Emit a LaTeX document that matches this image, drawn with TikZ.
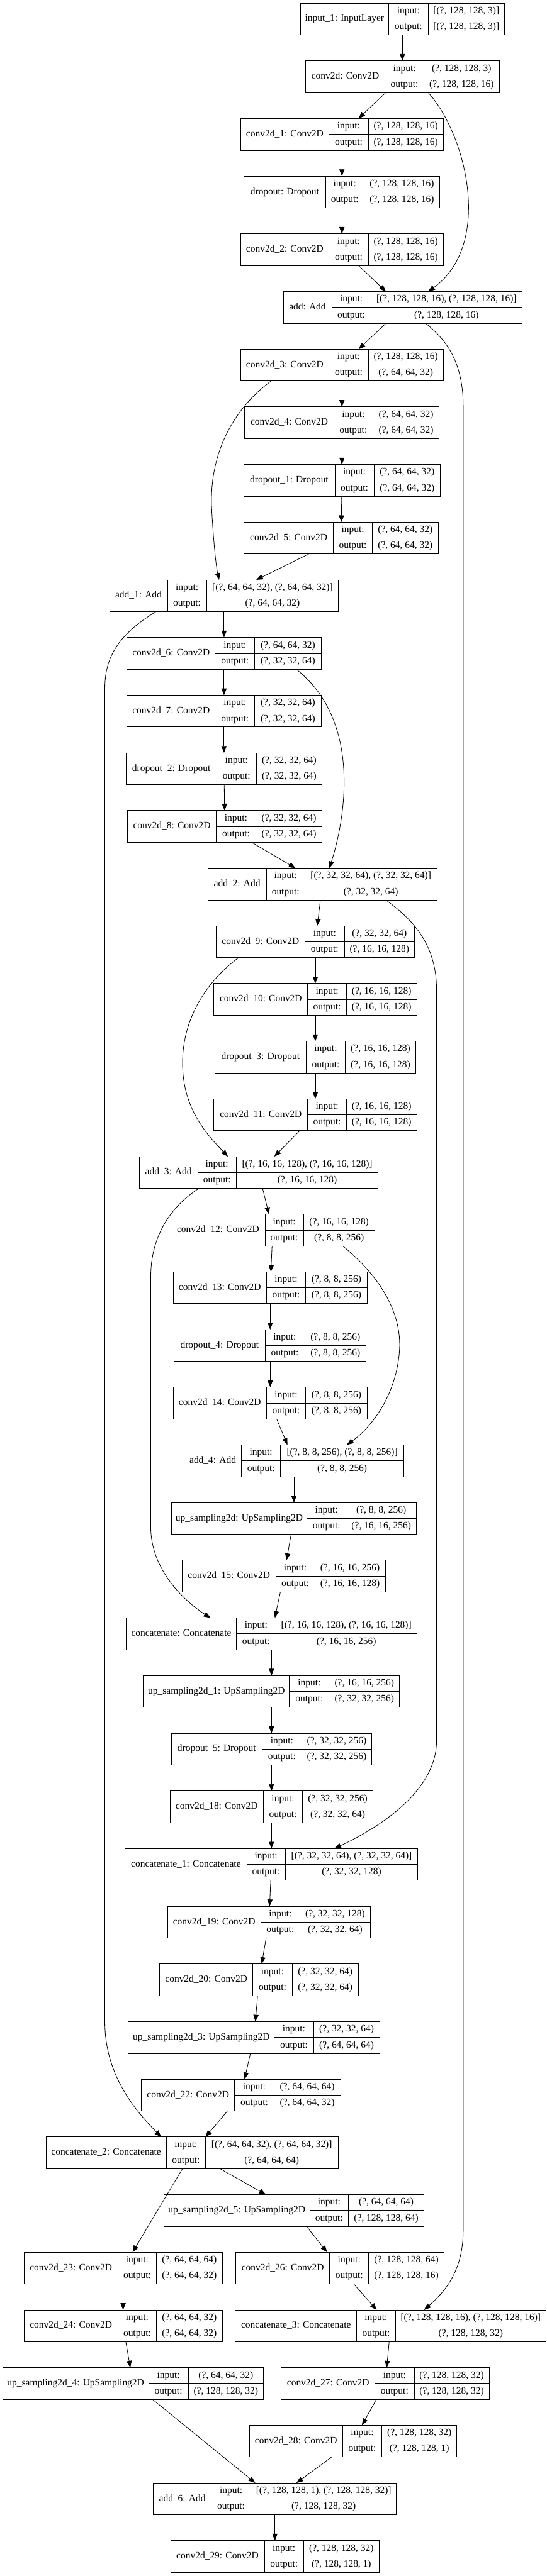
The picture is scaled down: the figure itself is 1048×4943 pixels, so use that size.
\documentclass[tikz,border=0pt]{standalone}
\usepackage{fontspec}
\setmainfont{Liberation Serif}
\usetikzlibrary{arrows.meta,positioning}

\newcommand{\kerasnode}[8]{%
  \node[record, minimum width={#3+#4+#5}, #2] (#1) {};
  \draw ([xshift=#3pt]#1.north west) -- ([xshift=#3pt]#1.south west)
        ([xshift=#3pt+#4pt]#1.north west) -- ([xshift=#3pt+#4pt]#1.south west)
        ([xshift=#3pt]#1.west) -- (#1.east);
  \node[txt] (#1-name) at ([xshift=#3pt/2]#1.west) {#6};
  \node[txt] (#1-in) at ([xshift=#3pt+#4pt/2, yshift=15.25pt]#1.west) {input:};
  \node[txt] (#1-out) at ([xshift=#3pt+#4pt/2, yshift=-15.25pt]#1.west) {output:};
  \node[txt] (#1-inv) at ([xshift=#3pt+#4pt+#5pt/2, yshift=15.25pt]#1.west) {#7};
  \node[txt] (#1-outv) at ([xshift=#3pt+#4pt+#5pt/2, yshift=-15.25pt]#1.west) {#8};
}

\begin{document}
\begin{tikzpicture}[
		x=1pt, y=-1pt,
		line width=1pt,
		node distance=49.66pt,
		arrow/.style={-{Triangle[length=13pt, width=10pt]}},
		record/.style={draw, minimum height=61pt, inner sep=0pt, outer sep=0pt},
		txt/.style={inner sep=0pt, font=\fontsize{18.67pt}{22pt}\selectfont, text height=13pt, text depth=4pt},
	]
		\useasboundingbox (0,0) rectangle (1048,4943);

		\kerasnode{in1}{at={(771.5,36.5)}}{169}{76}{146}{input\_1: InputLayer}{[(?, 128, 128, 3)]}{[(?, 128, 128, 3)]}
		\kerasnode{c0}{below=of in1}{152}{75}{144}{conv2d: Conv2D}{(?, 128, 128, 3)}{(?, 128, 128, 16)}
		\kerasnode{c1}{below=of c0, xshift=-116pt}{170}{75}{144}{conv2d\_1: Conv2D}{(?, 128, 128, 16)}{(?, 128, 128, 16)}
		\kerasnode{d0}{below=of c1}{156}{74}{145}{dropout: Dropout}{(?, 128, 128, 16)}{(?, 128, 128, 16)}
		\kerasnode{c2}{below=of d0}{170}{75}{144}{conv2d\_2: Conv2D}{(?, 128, 128, 16)}{(?, 128, 128, 16)}
		\kerasnode{a0}{below=of c2, xshift=116.5pt}{93}{75}{290}{add: Add}{[(?, 128, 128, 16), (?, 128, 128, 16)]}{(?, 128, 128, 16)}
		\kerasnode{c3}{below=of a0, xshift=-116.5pt}{170}{75}{144}{conv2d\_3: Conv2D}{(?, 128, 128, 16)}{(?, 64, 64, 32)}
		\kerasnode{c4}{below=of c3}{171}{75}{127}{conv2d\_4: Conv2D}{(?, 64, 64, 32)}{(?, 64, 64, 32)}
		\kerasnode{d1}{below=of c4}{175}{75}{127}{dropout\_1: Dropout}{(?, 64, 64, 32)}{(?, 64, 64, 32)}
		\kerasnode{c5}{below=of d1, xshift=-1.5pt}{171}{75}{126}{conv2d\_5: Conv2D}{(?, 64, 64, 32)}{(?, 64, 64, 32)}
		\kerasnode{a1}{below=of c5, xshift=-224.5pt}{111}{75}{253}{add\_1: Add}{[(?, 64, 64, 32), (?, 64, 64, 32)]}{(?, 64, 64, 32)}
		\kerasnode{c6}{below=of a1}{169}{76}{127}{conv2d\_6: Conv2D}{(?, 64, 64, 32)}{(?, 32, 32, 64)}
		\kerasnode{c7}{below=of c6}{169}{76}{127}{conv2d\_7: Conv2D}{(?, 32, 32, 64)}{(?, 32, 32, 64)}
		\kerasnode{d2}{below=of c7}{174}{76}{126}{dropout\_2: Dropout}{(?, 32, 32, 64)}{(?, 32, 32, 64)}
		\kerasnode{c8}{below=of d2, xshift=1.5pt}{170}{76}{127}{conv2d\_8: Conv2D}{(?, 32, 32, 64)}{(?, 32, 32, 64)}
		\kerasnode{a2}{below=of c8, xshift=187pt}{112}{74}{253}{add\_2: Add}{[(?, 32, 32, 64), (?, 32, 32, 64)]}{(?, 32, 32, 64)}
		\kerasnode{c9}{below=of a2, xshift=-13.5pt}{170}{76}{134}{conv2d\_9: Conv2D}{(?, 32, 32, 64)}{(?, 16, 16, 128)}
		\kerasnode{c10}{below=of c9}{180}{74}{135}{conv2d\_10: Conv2D}{(?, 16, 16, 128)}{(?, 16, 16, 128)}
		\kerasnode{d3}{below=of c10}{175}{75}{135}{dropout\_3: Dropout}{(?, 16, 16, 128)}{(?, 16, 16, 128)}
		\kerasnode{c11}{below=of d3}{180}{74}{135}{conv2d\_11: Conv2D}{(?, 16, 16, 128)}{(?, 16, 16, 128)}
		\kerasnode{a3}{below=of c11, xshift=-108.5pt}{112}{74}{272}{add\_3: Add}{[(?, 16, 16, 128), (?, 16, 16, 128)]}{(?, 16, 16, 128)}
		\kerasnode{c12}{below=of a3, xshift=27pt}{180}{74}{136}{conv2d\_12: Conv2D}{(?, 16, 16, 128)}{(?, 8, 8, 256)}
		\kerasnode{c13}{below=of c12, xshift=-5pt}{179}{75}{118}{conv2d\_13: Conv2D}{(?, 8, 8, 256)}{(?, 8, 8, 256)}
		\kerasnode{d4}{below=of c13}{174}{76}{118}{dropout\_4: Dropout}{(?, 8, 8, 256)}{(?, 8, 8, 256)}
		\kerasnode{c14}{below=of d4}{179}{75}{118}{conv2d\_14: Conv2D}{(?, 8, 8, 256)}{(?, 8, 8, 256)}
		\kerasnode{a4}{below=of c14, xshift=45.5pt}{110}{75}{236}{add\_4: Add}{[(?, 8, 8, 256), (?, 8, 8, 256)]}{(?, 8, 8, 256)}
		\kerasnode{up0}{below=of a4}{260}{75}{135}{up\_sampling2d: UpSampling2D}{(?, 8, 8, 256)}{(?, 16, 16, 256)}
		\kerasnode{c15}{below=of up0, xshift=-19.5pt}{179}{75}{135}{conv2d\_15: Conv2D}{(?, 16, 16, 256)}{(?, 16, 16, 128)}
		\kerasnode{cat0}{below=of c15, xshift=-23.5pt}{212}{75}{271}{concatenate: Concatenate}{[(?, 16, 16, 128), (?, 16, 16, 128)]}{(?, 16, 16, 256)}
		\kerasnode{up1}{below=of cat0}{280}{76}{135}{up\_sampling2d\_1: UpSampling2D}{(?, 16, 16, 256)}{(?, 32, 32, 256)}
		\kerasnode{d5}{below=of up1}{174}{76}{134}{dropout\_5: Dropout}{(?, 32, 32, 256)}{(?, 32, 32, 256)}
		\kerasnode{c18}{below=of d5}{179}{75}{135}{conv2d\_18: Conv2D}{(?, 32, 32, 256)}{(?, 32, 32, 64)}
		\kerasnode{cat1}{below=of c18}{233}{74}{254}{concatenate\_1: Concatenate}{[(?, 32, 32, 64), (?, 32, 32, 64)]}{(?, 32, 32, 128)}
		\kerasnode{c19}{below=of cat1, xshift=-5pt}{179}{75}{135}{conv2d\_19: Conv2D}{(?, 32, 32, 128)}{(?, 32, 32, 64)}
		\kerasnode{c20}{below=of c19, xshift=-19pt}{179}{75}{127}{conv2d\_20: Conv2D}{(?, 32, 32, 64)}{(?, 32, 32, 64)}
		\kerasnode{up3}{below=of c20, xshift=-9.5pt}{280}{75}{127}{up\_sampling2d\_3: UpSampling2D}{(?, 32, 32, 64)}{(?, 64, 64, 64)}
		\kerasnode{c22}{below=of up3, xshift=-25pt}{179}{75}{128}{conv2d\_22: Conv2D}{(?, 64, 64, 64)}{(?, 64, 64, 32)}
		\kerasnode{cat2}{below=of c22, xshift=-94pt}{231}{75}{254}{concatenate\_2: Concatenate}{[(?, 64, 64, 32), (?, 64, 64, 32)]}{(?, 64, 64, 64)}
		\kerasnode{up5}{below=of cat2, xshift=195.5pt}{280}{74}{145}{up\_sampling2d\_5: UpSampling2D}{(?, 64, 64, 64)}{(?, 128, 128, 64)}
		\kerasnode{c26}{below=of up5, xshift=88pt}{180}{75}{144}{conv2d\_26: Conv2D}{(?, 128, 128, 64)}{(?, 128, 128, 16)}
		\kerasnode{c23}{below=of up5, xshift=-327.5pt}{180}{74}{126}{conv2d\_23: Conv2D}{(?, 64, 64, 64)}{(?, 64, 64, 32)}
		\kerasnode{c24}{below=of c23}{180}{74}{126}{conv2d\_24: Conv2D}{(?, 64, 64, 32)}{(?, 64, 64, 32)}
		\kerasnode{cat3}{below=of c26, xshift=97.5pt}{233}{74}{289}{concatenate\_3: Concatenate}{[(?, 128, 128, 16), (?, 128, 128, 16)]}{(?, 128, 128, 32)}
		\kerasnode{up4}{below=of c24, xshift=19pt}{280}{76}{144}{up\_sampling2d\_4: UpSampling2D}{(?, 64, 64, 32)}{(?, 128, 128, 32)}
		\kerasnode{c27}{below=of cat3, xshift=-10.5pt}{180}{75}{144}{conv2d\_27: Conv2D}{(?, 128, 128, 32)}{(?, 128, 128, 32)}
		\kerasnode{c28}{below=of c27, xshift=-61.5pt}{179}{75}{144}{conv2d\_28: Conv2D}{(?, 128, 128, 32)}{(?, 128, 128, 1)}
		\kerasnode{a6}{below=of c28, xshift=-150pt}{111}{76}{279}{add\_6: Add}{[(?, 128, 128, 1), (?, 128, 128, 32)]}{(?, 128, 128, 32)}
		\kerasnode{c29}{below=of a6}{180}{75}{145}{conv2d\_29: Conv2D}{(?, 128, 128, 32)}{(?, 128, 128, 1)}

		\draw[arrow] (in1) -- (c0);
		\draw[arrow] (c0) -- (c1);
		\draw[arrow] (c1) -- (d0);
		\draw[arrow] (d0) -- (c2);
		\draw[arrow] (c2) -- (a0);
		\draw[arrow] (a0) -- (c3);
		\draw[arrow] (c3) -- (c4);
		\draw[arrow] (c4) -- (d1);
		\draw[arrow] (d1) -- (c5);
		\draw[arrow] (c5) -- (a1);
		\draw[arrow] (a1) -- (c6);
		\draw[arrow] (c6) -- (c7);
		\draw[arrow] (c7) -- (d2);
		\draw[arrow] (d2) -- (c8);
		\draw[arrow] (c8) -- (a2);
		\draw[arrow] (a2) -- (c9);
		\draw[arrow] (c9) -- (c10);
		\draw[arrow] (c10) -- (d3);
		\draw[arrow] (d3) -- (c11);
		\draw[arrow] (c11) -- (a3);
		\draw[arrow] (a3) -- (c12);
		\draw[arrow] (c12) -- (c13);
		\draw[arrow] (c13) -- (d4);
		\draw[arrow] (d4) -- (c14);
		\draw[arrow] (c14) -- (a4);
		\draw[arrow] (a4) -- (up0);
		\draw[arrow] (up0) -- (c15);
		\draw[arrow] (c15) -- (cat0);
		\draw[arrow] (cat0) -- (up1);
		\draw[arrow] (up1) -- (d5);
		\draw[arrow] (d5) -- (c18);
		\draw[arrow] (c18) -- (cat1);
		\draw[arrow] (cat1) -- (c19);
		\draw[arrow] (c19) -- (c20);
		\draw[arrow] (c20) -- (up3);
		\draw[arrow] (up3) -- (c22);
		\draw[arrow] (c22) -- (cat2);
		\draw[arrow] (cat2) -- (c23);
		\draw[arrow] (cat2) -- (up5);
		\draw[arrow] (up5) -- (c26);
		\draw[arrow] (c23) -- (c24);
		\draw[arrow] (c26) -- (cat3);
		\draw[arrow] (c24) -- (up4);
		\draw[arrow] (cat3) -- (c27);
		\draw[arrow] (up4) -- (a6);
		\draw[arrow] (c27) -- (c28);
		\draw[arrow] (c28) -- (a6);
		\draw[arrow] (a6) -- (c29);

		\draw[arrow] ([xshift=49.5pt]c0.south) .. controls (895,260) and (945,470) .. ([xshift=49pt]a0.north);
		\draw[arrow] ([xshift=44pt]a0.south) .. controls (860,655) and (888,700) .. (888,780)
			-- (888,4280) .. controls (888,4360) and (850,4400) .. ([xshift=64pt]cat3.north);
		\draw[arrow] ([xshift=-135.5pt]c3.south) .. controls (440,790) and (400,880) .. (406,980)
			.. controls (410,1050) and (415,1090) .. ([xshift=-9.5pt]a1.north);
		\draw[arrow] ([xshift=-130.5pt]a1.south) .. controls (240,1210) and (201,1250) .. (201,1320)
			-- (201,3880) .. controls (201,3990) and (270,4060) .. ([xshift=-59pt]cat2.north);
		\draw[arrow] ([xshift=138.5pt]c6.south) .. controls (690,1380) and (665,1560) .. ([xshift=13.5pt]a2.north);
		\draw[arrow] ([xshift=121.5pt]a2.south) .. controls (800,1770) and (837,1820) .. (837,1900)
			-- (837,3340) .. controls (837,3440) and (720,3510) .. ([xshift=120.5pt]cat1.north);
		\draw[arrow] ([xshift=-147pt]c9.south) .. controls (400,1880) and (350,1950) .. (350,2040)
			.. controls (350,2130) and (400,2180) .. ([xshift=-59pt]a3.north);
		\draw[arrow] ([xshift=-114.5pt]a3.south) .. controls (320,2320) and (289,2380) .. (289,2450)
			-- (289,2930) .. controls (289,3010) and (350,3070) .. ([xshift=-117pt]cat0.north);
		\draw[arrow] ([xshift=134pt]c12.south) .. controls (730,2450) and (770,2520) .. (766,2590)
			.. controls (760,2680) and (710,2740) .. ([xshift=101.5pt]a4.north);
	\end{tikzpicture}
\end{document}
